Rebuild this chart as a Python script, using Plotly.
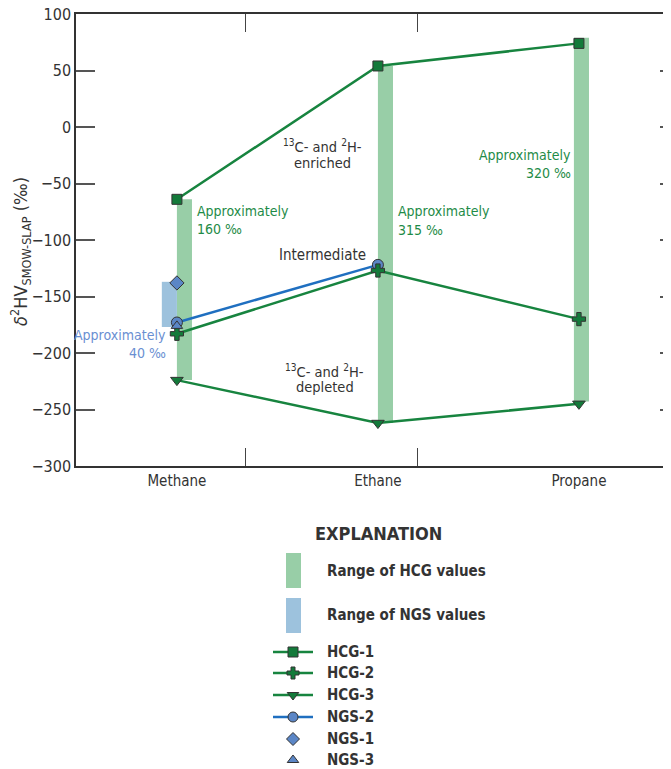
import plotly.graph_objects as go

# ---------------- data ----------------
gases = ["Methane", "Ethane", "Propane"]
gas_x = [0, 1, 2]

hcg1 = [-64, 54, 74]
hcg2 = [-183, -127, -170]
hcg3 = [-224, -262, -245]
ngs2 = [-173, -122]
ngs1 = [-138]
ngs3 = [-176]

hcg_range_low = [-224, -262, -243]
hcg_range_high = [-64, 54, 79]
ngs_range_low = [-177]
ngs_range_high = [-137]

y_ticks = [100, 50, 0, -50, -100, -150, -200, -250, -300]

# ---------------- styles ----------------
FONT = "DejaVu Sans Condensed, Liberation Sans Narrow, sans-serif"
GREEN_LINE = "#17843F"
GREEN_FILL = "#137A3A"
GREEN_BAR = "#98CEA7"
BLUE_LINE = "#1F6FC0"
BLUE_FILL = "#5B86C6"
BLUE_BAR = "#9DC2DD"
GREEN_TEXT = "#1E8B47"
BLUE_TEXT = "#6A8FD2"
DARK_TEXT = "#333333"
EDGE = "#333333"

fig = go.Figure()

# range bars
fig.add_trace(go.Bar(
    x=gas_x, y=[h - l for h, l in zip(hcg_range_high, hcg_range_low)],
    base=hcg_range_low, width=0.075, offset=[0, 0, -0.025],
    marker=dict(color=GREEN_BAR, line=dict(width=0)), showlegend=False,
    hoverinfo="skip"))
fig.add_trace(go.Bar(
    x=gas_x[:1], y=[h - l for h, l in zip(ngs_range_high, ngs_range_low)],
    base=ngs_range_low, width=0.075, offset=-0.075,
    marker=dict(color=BLUE_BAR, line=dict(width=0)), showlegend=False,
    hoverinfo="skip"))


def series(x, y, color, fill, symbol, size, mode="lines+markers"):
    fig.add_trace(go.Scatter(
        x=x, y=y, mode=mode, showlegend=False,
        line=dict(color=color, width=2.5),
        marker=dict(symbol=symbol, size=size, color=fill,
                    line=dict(color=EDGE, width=1))))


series(gas_x, hcg1, GREEN_LINE, GREEN_FILL, "square", 10)
series(gas_x, hcg3, GREEN_LINE, GREEN_FILL, "triangle-down", 11)
series(gas_x[:2], ngs2, BLUE_LINE, BLUE_FILL, "circle", 11)
series(gas_x, hcg2, GREEN_LINE, GREEN_FILL, "cross", 11)
series(gas_x[:1], ngs1, BLUE_LINE, BLUE_FILL, "diamond", 11, mode="markers")
series(gas_x[:1], ngs3, BLUE_LINE, BLUE_FILL, "triangle-up", 10, mode="markers")

# ---------------- annotations on plot ----------------
ann = []


def txt(x, y, s, color, xanchor="center", size=14, xref="x", yref="y", bold=False):
    if bold:
        s = "<b>" + s + "</b>"
    ann.append(dict(x=x, y=y, xref=xref, yref=yref, text=s, showarrow=False,
                    xanchor=xanchor, yanchor="middle",
                    font=dict(family=FONT, size=size, color=color)))


txt(0.09, -74.5, "Approximately", GREEN_TEXT, "left")
txt(0.09, -90.5, "160 ‰", GREEN_TEXT, "left")
txt(-0.045, -184, "Approximately", BLUE_TEXT, "right")
txt(-0.045, -200, "40 ‰", BLUE_TEXT, "right")
txt(1.09, -74.5, "Approximately", GREEN_TEXT, "left")
txt(1.09, -91, "315 ‰", GREEN_TEXT, "left")
txt(1.97, -24.5, "Approximately", GREEN_TEXT, "right")
txt(1.97, -41, "320 ‰", GREEN_TEXT, "right")
txt(0.726, -113, "Intermediate", DARK_TEXT, size=15)
txt(0.724, -16.5, "<sup>13</sup>C- and <sup>2</sup>H-", DARK_TEXT, size=14.5)
txt(0.724, -31.5, "enriched", DARK_TEXT, size=14.5)
txt(0.735, -215.5, "<sup>13</sup>C- and <sup>2</sup>H-", DARK_TEXT, size=14.5)
txt(0.735, -230.5, "depleted", DARK_TEXT, size=14.5)

# y axis title
ann.append(dict(x=-0.094, y=0.685, xref="paper", yref="paper",
                text="<i>δ</i><sup>2</sup>HV<sub>SMOW-SLAP</sub> (‰)",
                textangle=-90, showarrow=False, xanchor="center", yanchor="middle",
                font=dict(family=FONT, size=18, color=DARK_TEXT)))

# ---------------- explanation (legend) on pixel-like axes ----------------
legend_labels = ["HCG-1", "HCG-2", "HCG-3", "NGS-2", "NGS-1", "NGS-3"]
legend_symbols = ["square", "cross", "triangle-down", "circle", "diamond", "triangle-up"]
legend_lines = [GREEN_LINE, GREEN_LINE, GREEN_LINE, BLUE_LINE, None, None]
legend_fills = [GREEN_FILL, GREEN_FILL, GREEN_FILL, BLUE_FILL, BLUE_FILL, BLUE_FILL]
legend_rows = [652, 673, 695, 717, 739, 760]

txt(378, 533, "EXPLANATION", DARK_TEXT, size=18, xref="x2", yref="y2", bold=True)
txt(325, 571, "Range of HCG values", DARK_TEXT, "left", size=15, xref="x2", yref="y2", bold=True)
txt(325, 615, "Range of NGS values", DARK_TEXT, "left", size=15, xref="x2", yref="y2", bold=True)

shapes = [
    dict(type="rect", xref="x2", yref="y2", x0=286, x1=301, y0=553, y1=588,
         fillcolor=GREEN_BAR, line=dict(width=0)),
    dict(type="rect", xref="x2", yref="y2", x0=286, x1=301, y0=598, y1=633,
         fillcolor=BLUE_BAR, line=dict(width=0)),
]

for lab, sym, lc, fc, yy in zip(legend_labels, legend_symbols, legend_lines,
                                legend_fills, legend_rows):
    if lc:
        fig.add_trace(go.Scatter(x=[273, 313], y=[yy, yy], mode="lines",
                                 line=dict(color=lc, width=2.5), xaxis="x2", yaxis="y2",
                                 showlegend=False, hoverinfo="skip"))
    fig.add_trace(go.Scatter(x=[293], y=[yy], mode="markers", xaxis="x2", yaxis="y2",
                             marker=dict(symbol=sym, size=10, color=fc,
                                         line=dict(color=EDGE, width=1)),
                             showlegend=False, hoverinfo="skip"))
    txt(325, yy, lab, DARK_TEXT, "left", size=15, xref="x2", yref="y2", bold=True)

# right-side tick carrier
fig.add_trace(go.Scatter(x=[None], y=[None], yaxis="y3", showlegend=False))

# The page body adds an 8 px offset, so the figure is sized to fill the window.
ydom = [303 / 755, 1]

fig.update_layout(
    width=663, height=761,
    margin=dict(l=68, r=0, t=6, b=0, autoexpand=False),
    paper_bgcolor="white", plot_bgcolor="white",
    barmode="overlay",
    font=dict(family=FONT, size=15, color=DARK_TEXT),
    xaxis=dict(range=[-0.502, 2.458], tickvals=gas_x, ticktext=gases, ticks="",
               showgrid=False, zeroline=False, showline=True, linecolor=EDGE,
               linewidth=1.5, mirror="allticks", automargin=False,
               tickfont=dict(family=FONT, size=15, color=DARK_TEXT),
               minor=dict(tickvals=[0.343, 1.199], ticks="inside", ticklen=18,
                          tickcolor="#444", tickwidth=1.3, showgrid=False),
               anchor="y"),
    yaxis=dict(range=[-300, 100], domain=ydom, tickvals=y_ticks,
               ticktext=[str(v).replace("-", "\u2212") for v in y_ticks],
               ticks="inside", ticklen=19, tickwidth=2, tickcolor="#555",
               showgrid=False, zeroline=False, showline=True, linecolor=EDGE,
               linewidth=1.5, mirror=False, automargin=False,
               ticklabeloverflow="allow",
               tickfont=dict(family=FONT, size=16, color=DARK_TEXT)),
    yaxis3=dict(range=[-300, 100], overlaying="y", side="right", tickvals=y_ticks,
                ticks="inside", ticklen=11, tickwidth=2, tickcolor="#555",
                showticklabels=False, showgrid=False, zeroline=False, showline=False,
                automargin=False),
    xaxis2=dict(domain=[0, 1], range=[76, 671], visible=False, anchor="y2"),
    yaxis2=dict(domain=[0, ydom[0]], range=[769, 466], visible=False, anchor="x2"),
    annotations=ann,
    shapes=shapes,
)

fig.write_html("out.html")
